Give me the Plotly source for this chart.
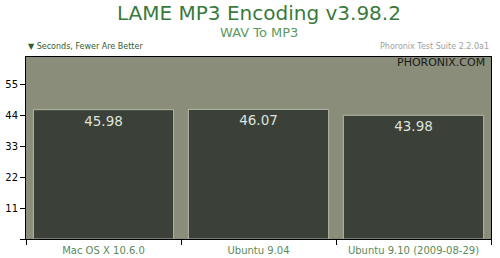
import plotly.graph_objects as go

categories = ["Mac OS X 10.6.0", "Ubuntu 9.04", "Ubuntu 9.10 (2009-08-29)"]
values = [45.98, 46.07, 43.98]
ytick_vals = [0, 11, 22, 33, 44, 55]
ytick_text = ["", "11", "22", "33", "44", "55"]

FONT = "DejaVu Sans"

fig = go.Figure()
fig.add_trace(go.Bar(
    x=categories, y=values,
    text=[f"{v:.2f}" for v in values],
    textposition="inside", insidetextanchor="end", textangle=0,
    constraintext="none",
    textfont=dict(family=FONT, size=13.5, color="#dfe2da"),
    marker=dict(color="#3b4139", line=dict(color="#b5b9a8", width=1)),
    hoverinfo="skip",
))

fig.update_layout(
    width=500, height=258,
    margin=dict(l=26, r=9, t=57, b=19, autoexpand=False),
    paper_bgcolor="white", plot_bgcolor="#8b8d7b",
    bargap=0.095, showlegend=False,
    font=dict(family=FONT),
)
fig.update_xaxes(
    type="category", tickson="boundaries", ticks="outside", ticklen=5,
    tickcolor="black", showline=True, linecolor="black", mirror=True,
    showgrid=False, tickfont=dict(family=FONT, size=10, color="#5a8a5b"),
    ticklabelstandoff=2, automargin=False, fixedrange=True,
)
fig.update_yaxes(
    range=[0, 64.7], tickvals=ytick_vals, ticktext=ytick_text,
    ticks="outside", ticklen=5, tickcolor="black",
    showline=True, linecolor="black", mirror=True, showgrid=False,
    zeroline=False, tickfont=dict(family=FONT, size=10, color="black"),
    automargin=False, fixedrange=True,
)

fig.add_annotation(text="LAME MP3 Encoding v3.98.2", xref="paper", yref="paper",
                   x=0.5, y=(258 - 13 - 19) / 182.0, showarrow=False,
                   xanchor="center", yanchor="middle",
                   font=dict(family=FONT, size=20, color="#3a7a3c"))
fig.add_annotation(text="WAV To MP3", xref="paper", yref="paper",
                   x=0.5, y=(258 - 32 - 19) / 182.0, showarrow=False,
                   xanchor="center", yanchor="middle",
                   font=dict(family=FONT, size=13, color="#5c9a5e"))
fig.add_annotation(text="▼ Seconds, Fewer Are Better", xref="paper", yref="paper",
                   x=0, y=(258 - 46 - 19) / 182.0, showarrow=False,
                   xanchor="left", yanchor="middle",
                   font=dict(family=FONT, size=8, color="#2f5e30"))
fig.add_annotation(text="Phoronix Test Suite 2.2.0a1", xref="paper", yref="paper",
                   x=1, y=(258 - 46 - 19) / 182.0, showarrow=False,
                   xanchor="right", yanchor="middle",
                   font=dict(family=FONT, size=8, color="#a0a0a0"))
fig.add_annotation(text="PHORONIX.COM", xref="paper", yref="paper",
                   x=(487 - 26) / 465.0, y=(258 - 62 - 19) / 182.0, showarrow=False,
                   xanchor="right", yanchor="middle",
                   font=dict(family=FONT, size=11, color="#1a1a1a"))

fig.write_html("out.html", config={"displayModeBar": False})
